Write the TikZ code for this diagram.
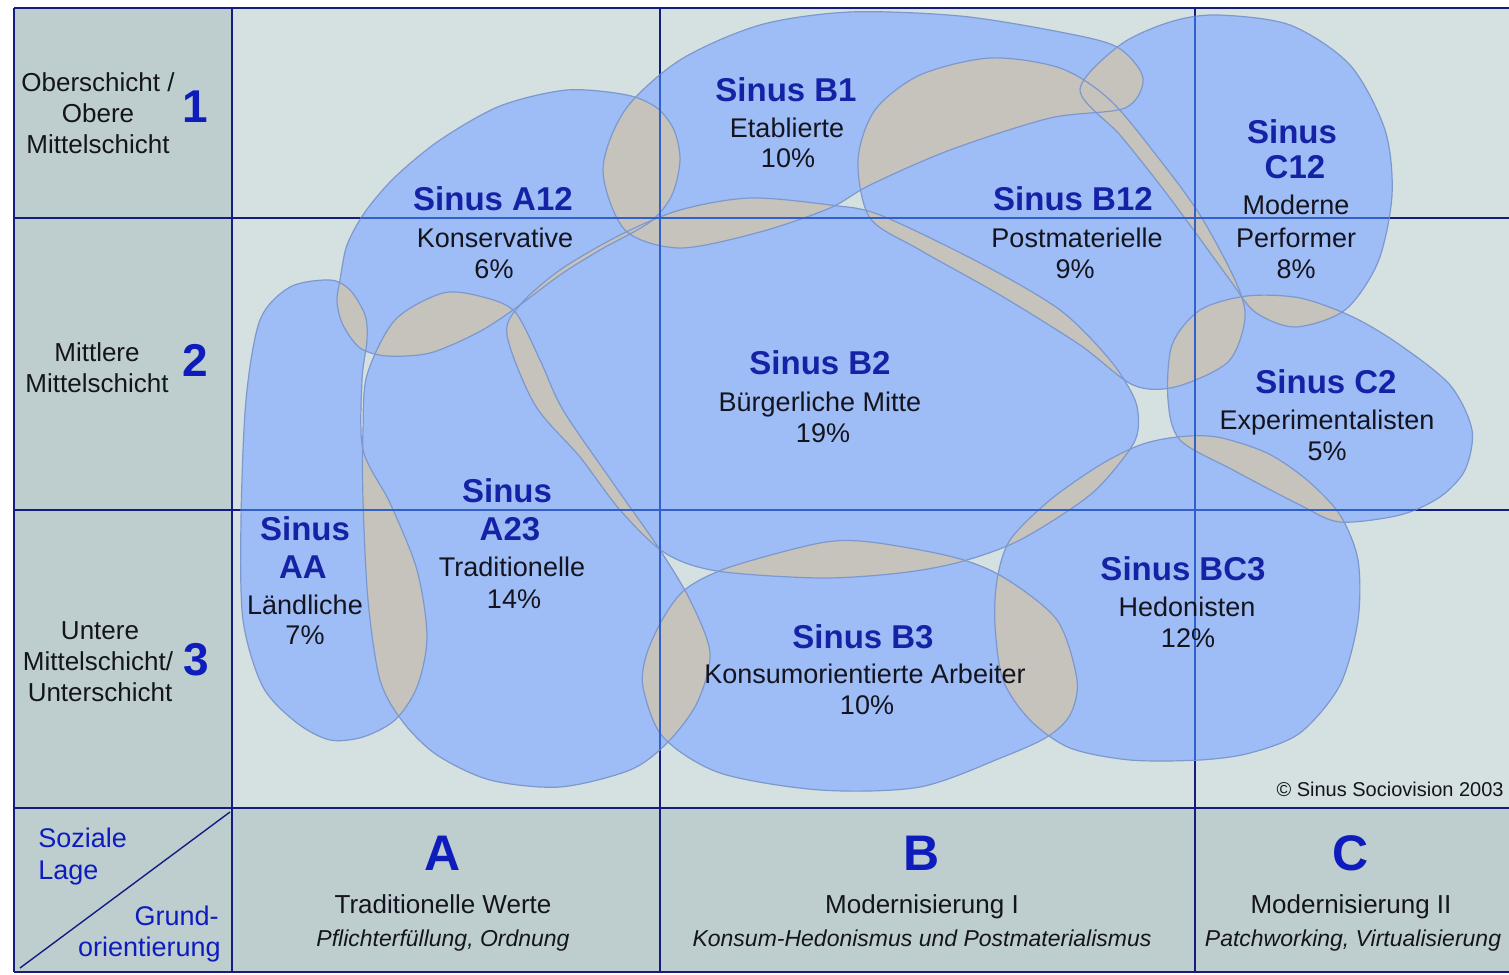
\documentclass[tikz,border=0pt]{standalone}
\usepackage{fontspec}
\setmainfont{Liberation Sans}
\definecolor{mainbg}{RGB}{213,225,225}
\definecolor{headbg}{RGB}{190,206,206}
\definecolor{blobfill}{RGB}{158,188,245}
\definecolor{ovlfill}{RGB}{198,195,188}
\definecolor{blobedge}{RGB}{125,152,205}
\definecolor{navy}{RGB}{20,28,130}
\definecolor{lineblue}{RGB}{50,95,200}
\definecolor{titleblue}{RGB}{22,34,165}
\definecolor{numblue}{RGB}{14,28,190}
\definecolor{txt}{RGB}{20,20,30}
\tikzset{
  gridline/.style={draw=navy, line width=1pt},
  gridover/.style={draw=lineblue, line width=1pt},
  blobline/.style={draw=blobedge, line width=0.6pt},
  ttl/.style={font=\fontsize{16.5}{18}\selectfont\bfseries, text=titleblue, inner sep=0pt, text height=12pt, text depth=0pt},
  lbl/.style={font=\fontsize{13.5}{15}\selectfont, text=txt, inner sep=0pt, text height=10pt, text depth=0pt},
  side/.style={font=\fontsize{13}{15}\selectfont, text=txt, inner sep=0pt, text height=10pt, text depth=0pt},
  bignum/.style={font=\fontsize{23}{25}\selectfont\bfseries, text=numblue, inner sep=0pt},
  bigletter/.style={font=\fontsize{25}{27}\selectfont\bfseries, text=numblue, inner sep=0pt},
  bottomtxt/.style={font=\fontsize{13}{15}\selectfont, text=txt, inner sep=0pt, text height=10pt, text depth=0pt},
  bottomit/.style={font=\fontsize{11.5}{13}\selectfont\itshape, text=txt, inner sep=0pt, text height=9pt, text depth=0pt},
  cornertxt/.style={font=\fontsize{13.5}{15}\selectfont, text=numblue, inner sep=0pt, text height=10pt, text depth=3pt},
  copyr/.style={font=\fontsize{10}{12}\selectfont, text=txt, inner sep=0pt}
}
\def\blAA{plot[smooth cycle] coordinates {(330,280) (350,290) (365,315) (367,340) (362,380) (363,450) (390,503) (417,570) (427,637) (417,687) (395,720) (363,737) (330,740) (297,723) (263,687) (243,620) (241,520) (246,400) (260,320) (290,287)}}
\def\blAI{plot[smooth cycle] coordinates {(340,280) (347,245) (365,212) (395,177) (440,140) (500,106) (567,90) (627,95) (657,108) (674,130) (680,160) (672,195) (650,222) (600,250) (560,275) (513,310) (477,333) (430,353) (387,356) (360,348) (343,325) (337,302)}}
\def\blAII{plot[smooth cycle] coordinates {(367,375) (395,320) (443,293) (483,297) (515,312) (540,360) (563,410) (613,483) (660,550) (690,600) (710,653) (697,703) (667,743) (630,770) (560,787) (490,780) (437,755) (403,722) (380,680) (368,600) (363,500) (363,430)}}
\def\blBI{plot[smooth cycle] coordinates {(603,170) (625,110) (680,60) (760,25) (850,12) (960,16) (1060,32) (1117,47) (1143,78) (1125,108) (1050,118) (950,150) (870,185) (830,208) (760,232) (680,248) (625,230)}}
\def\blBII{plot[smooth cycle] coordinates {(858,160) (875,110) (920,75) (990,58) (1060,68) (1110,100) (1160,160) (1200,215) (1235,280) (1245,318) (1228,362) (1175,387) (1133,385) (1080,345) (1000,295) (920,250) (870,218)}}
\def\blBIII{plot[smooth cycle] coordinates {(507,335) (520,305) (560,270) (620,235) (680,210) (750,198) (830,205) (880,215) (980,263) (1060,310) (1110,360) (1135,400) (1138,430) (1128,452) (1090,495) (1020,540) (960,562) (900,573) (820,578) (717,571) (665,553) (620,510) (580,457) (535,405)}}
\def\blBIV{plot[smooth cycle] coordinates {(687,588) (730,567) (820,543) (870,542) (953,557) (1003,577) (1057,620) (1077,680) (1070,715) (1047,737) (1003,757) (920,787) (820,790) (720,773) (663,737) (643,687) (647,653) (665,615)}}
\def\blBC{plot[smooth cycle] coordinates {(997,580) (1010,540) (1050,500) (1100,465) (1140,445) (1177,437) (1217,437) (1267,453) (1307,480) (1340,515) (1358,560) (1358,620) (1340,685) (1300,733) (1250,753) (1200,760) (1130,760) (1070,748) (1030,720) (1003,680) (995,625)}}
\def\blCI{plot[smooth cycle] coordinates {(1080,90) (1120,45) (1170,22) (1217,15) (1290,25) (1350,65) (1385,130) (1392,195) (1378,262) (1345,310) (1295,327) (1255,312) (1230,280) (1195,232) (1160,185) (1120,135)}}
\def\blCII{plot[smooth cycle] coordinates {(1168,400) (1172,345) (1200,310) (1247,296) (1300,298) (1353,317) (1400,345) (1450,385) (1472,430) (1465,470) (1440,497) (1400,515) (1340,522) (1300,505) (1233,470) (1180,440)}}
\begin{document}
\begin{tikzpicture}[x=0.5pt,y=-0.5pt]
\useasboundingbox (0,0) rectangle (1509,974);
\fill[white] (0,0) rectangle (1509,974);
\fill[mainbg] (232,8) rectangle (1509,808);
\fill[headbg] (14,8) rectangle (232,972);
\fill[headbg] (232,808) rectangle (1509,972);
% grid (navy)
\draw[gridline] (14,8) -- (1509,8);
\draw[gridline] (14,972) -- (1509,972);
\draw[gridline] (14,8) -- (14,972);
\foreach \gx in {232,660,1195} { \draw[gridline] (\gx,8) -- (\gx,972); }
\foreach \gy in {218,510,808} { \draw[gridline] (14,\gy) -- (1509,\gy); }
% blobs
\foreach \b in {\blAA,\blAI,\blAII,\blBI,\blBII,\blBIII,\blBIV,\blBC,\blCI,\blCII} { \fill[blobfill] \b; }
% overlaps
\foreach \p/\q in {\blAA/\blAI, \blAA/\blAII, \blAA/\blBIII, \blAI/\blAII, \blAI/\blBI, \blAI/\blBIII, \blAI/\blBII, \blAII/\blBIII, \blAII/\blBIV, \blAII/\blBI, \blBI/\blBII, \blBI/\blBIII, \blBI/\blCI, \blBII/\blCI, \blBII/\blBIII, \blBII/\blCII, \blBII/\blBC, \blCI/\blCII, \blCII/\blBC, \blBIII/\blBC, \blBIII/\blBIV, \blBIV/\blBC, \blBIII/\blCII, \blCI/\blBIII}
{ \begin{scope} \clip \p; \fill[ovlfill] \q; \end{scope} }
% outlines
\foreach \b in {\blAA,\blAI,\blAII,\blBI,\blBII,\blBIII,\blBIV,\blBC,\blCI,\blCII} { \draw[blobline] \b; }
% grid lines seen through the blobs
\begin{scope}
\clip \blAA \blAI \blAII \blBI \blBII \blBIII \blBIV \blBC \blCI \blCII;
\foreach \gx in {660,1195} { \draw[gridover] (\gx,8) -- (\gx,808); }
\foreach \gy in {218,510} { \draw[gridover] (232,\gy) -- (1509,\gy); }
\end{scope}
% milieu labels
\node[ttl] (tB1) at (786,90) {Sinus B1};
\node[lbl] (lB1) at (787,127) {Etablierte};
\node[lbl] (pB1) at (788,157) {10\%};
\node[ttl] (tA12) at (493,198) {Sinus A12};
\node[lbl] (lA12) at (495,237) {Konservative};
\node[lbl] (pA12) at (494,268) {6\%};
\node[ttl] (tB12) at (1073,198) {Sinus B12};
\node[lbl] (lB12) at (1077,237) {Postmaterielle};
\node[lbl] (pB12) at (1075,268) {9\%};
\node[ttl] (tC12a) at (1292,131) {Sinus};
\node[ttl] (tC12b) at (1295,166) {C12};
\node[lbl] (lC12a) at (1296,204) {Moderne};
\node[lbl] (lC12b) at (1296,237) {Performer};
\node[lbl] (pC12) at (1296,268) {8\%};
\node[ttl] (tB2) at (820,362) {Sinus B2};
\node[lbl] (lB2) at (820,401) {Bürgerliche Mitte};
\node[lbl] (pB2) at (823,432) {19\%};
\node[ttl] (tC2) at (1326,381) {Sinus C2};
\node[lbl] (lC2) at (1327,419) {Experimentalisten};
\node[lbl] (pC2) at (1327,450) {5\%};
\node[ttl] (tA23a) at (507,490) {Sinus};
\node[ttl] (tA23b) at (510,528) {A23};
\node[lbl] (lA23) at (512,566) {Traditionelle};
\node[lbl] (pA23) at (514,598) {14\%};
\node[ttl] (tAAa) at (305,528) {Sinus};
\node[ttl] (tAAb) at (303,566) {AA};
\node[lbl] (lAA) at (305,604) {Ländliche};
\node[lbl] (pAA) at (305,634) {7\%};
\node[ttl] (tBC3) at (1183,568) {Sinus BC3};
\node[lbl] (lBC3) at (1187,606) {Hedonisten};
\node[lbl] (pBC3) at (1188,637) {12\%};
\node[ttl] (tB3) at (863,636) {Sinus B3};
\node[lbl] (lB3) at (865,673) {Konsumorientierte Arbeiter};
\node[lbl] (pB3) at (867,704) {10\%};
\node[copyr, anchor=east] (copy) at (1504,789) {© Sinus Sociovision 2003};
% row labels
\node[side] (r1a) at (98,82) {Oberschicht /};
\node[side] (r1b) at (98,113) {Obere};
\node[side] (r1c) at (98,144) {Mittelschicht};
\node[bignum] (n1) at (195,107) {1};
\node[side] (r2a) at (97,351) {Mittlere};
\node[side] (r2b) at (97,382) {Mittelschicht};
\node[bignum] (n2) at (195,360) {2};
\node[side] (r3a) at (100,629) {Untere};
\node[side] (r3b) at (98,660) {Mittelschicht/};
\node[side] (r3c) at (100,691) {Unterschicht};
\node[bignum] (n3) at (196,660) {3};
% column labels
\node[bigletter] (cA) at (443,853) {A};
\node[bottomtxt] (cA1) at (443,903) {Traditionelle Werte};
\node[bottomit] (cA2) at (443,937) {Pflichterfüllung, Ordnung};
\node[bigletter] (cB) at (922,853) {B};
\node[bottomtxt] (cB1) at (922,903) {Modernisierung I};
\node[bottomit] (cB2) at (922,937) {Konsum-Hedonismus und Postmaterialismus};
\node[bigletter] (cC) at (1351,853) {C};
\node[bottomtxt] (cC1) at (1351,903) {Modernisierung II};
\node[bottomit] (cC2) at (1353,937) {Patchworking, Virtualisierung};
% corner cell
\coordinate (dg1) at (20,968);
\coordinate (dg2) at (230,812);
\draw[navy, line width=0.7pt] (dg1) -- (dg2);
\node[cornertxt, anchor=west] (soz1) at (38,840) {Soziale};
\node[cornertxt, anchor=west] (soz2) at (38,872) {Lage};
\node[cornertxt, anchor=east] (gr1) at (219,918) {Grund-};
\node[cornertxt, anchor=east] (gr2) at (221,949) {orientierung};
\end{tikzpicture}
\end{document}
